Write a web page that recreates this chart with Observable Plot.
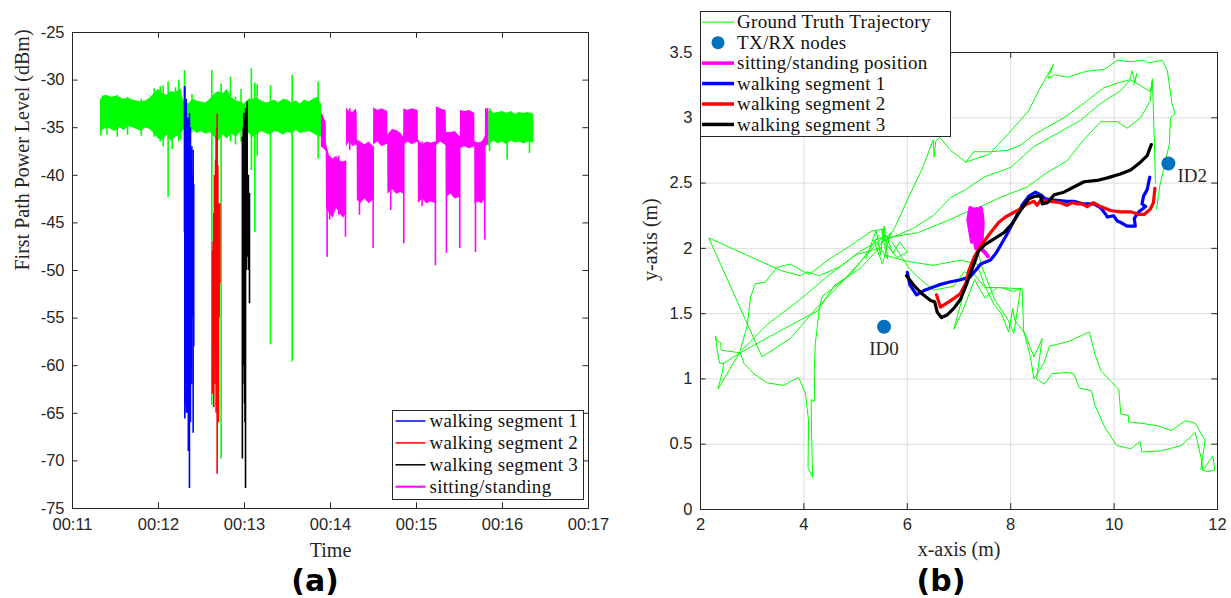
<!DOCTYPE html>
<html><head><meta charset="utf-8">
<script src="https://cdn.jsdelivr.net/npm/d3@7"></script>
<script src="https://cdn.jsdelivr.net/npm/@observablehq/plot@0.6"></script>
<style>
body{margin:0;background:#fff;}
#wrap{position:relative;width:1231px;height:598px;overflow:hidden;background:#fff;}
#wrap > svg{position:absolute;top:0;}
.cap{position:absolute;top:565px;height:32px;line-height:32px;font-family:"DejaVu Sans",sans-serif;font-weight:bold;font-size:30px;color:#000;transform:translateX(-50%);}
</style></head>
<body><div id="wrap"></div>
<script>
// ---------- Panel (a): first path power level over time (minutes) ----------
const leftTicksX = [11,12,13,14,15,16,17];
const leftTicksY = [-75,-70,-65,-60,-55,-50,-45,-40,-35,-30,-25];
// green band [t, low, high]
const greenBandA = [
[11.325,-35.8,-32.2],[11.35,-35.3,-31.7],[11.40,-35.0,-31.6],[11.45,-35.2,-31.8],[11.50,-35.4,-31.7],
[11.55,-35.0,-31.8],[11.60,-35.3,-32.0],[11.65,-34.9,-31.9],[11.70,-35.0,-32.1],[11.75,-35.2,-32.2],
[11.80,-35.4,-32.3],[11.85,-35.0,-32.2],[11.90,-35.2,-31.9],[11.95,-35.6,-31.4],[12.00,-36.2,-31.0],
[12.05,-36.3,-31.4],[12.10,-35.8,-31.6],[12.15,-36.4,-31.2],[12.20,-36.0,-31.3],[12.25,-35.8,-31.0],
[12.30,-35.2,-32.3],[12.35,-35.0,-32.5],[12.40,-35.2,-32.0],[12.45,-35.6,-32.2],[12.50,-35.4,-32.3],
[12.55,-35.7,-32.4],[12.60,-35.5,-32.0],[12.65,-36.0,-31.5],[12.70,-36.4,-31.2],[12.75,-35.8,-31.4],
[12.80,-36.2,-31.0],[12.85,-35.6,-31.8],[12.90,-36.0,-32.2],[12.95,-35.5,-32.3],[13.00,-35.2,-32.5],
[13.05,-35.6,-32.0],[13.10,-36.0,-32.0],[13.15,-35.7,-31.9],[13.20,-35.4,-32.2],[13.25,-35.6,-32.4],
[13.30,-35.8,-32.3],[13.35,-35.4,-32.1],[13.40,-35.5,-32.4],[13.45,-35.8,-32.0],[13.50,-35.5,-32.1],
[13.55,-35.6,-32.4],[13.60,-35.3,-32.2],[13.65,-35.6,-32.5],[13.70,-35.5,-32.1],[13.75,-35.4,-32.3],
[13.80,-35.6,-32.0],[13.85,-35.9,-31.8],[13.895,-36.0,-32.5]];
const greenBandB = [
[15.84,-37.0,-33.3],[15.87,-36.6,-33.2],[15.90,-36.4,-33.5],[15.95,-36.7,-33.4],[16.00,-36.5,-33.3],
[16.05,-36.8,-33.5],[16.10,-36.4,-33.3],[16.15,-36.6,-33.6],[16.20,-36.5,-33.4],[16.25,-36.7,-33.5],
[16.30,-36.5,-33.4],[16.364,-36.6,-33.6]];
const greenSpikes = [
[11.33,-35.9,-32],[11.40,-35.8,-32],[11.52,-36,-31.6],[11.64,-35.8,-31.8],[11.80,-35.9,-32],
[11.95,-36,-30.9],[12.02,-36.5,-30.7],[12.054,-37,-30.6],[12.112,-42.3,-30.2],[12.159,-37.3,-31.5],
[12.197,-36,-30.8],[12.236,-36.5,-30.0],[12.255,-36.3,-31],[12.303,-35,-29.0],[12.39,-35.5,-31.5],
[12.62,-64.2,-29.0],[12.728,-69.8,-30.4],[12.78,-35.5,-31.5],[12.837,-36.5,-29.7],[12.895,-36.8,-31.8],
[12.96,-36.5,-31],[13.08,-39.5,-28.8],[13.12,-46.0,-30.3],[13.147,-38,-30.5],[13.302,-57.8,-30.6],
[13.554,-59.6,-29.5],[13.856,-38.3,-30.2],[15.85,-37.5,-33.0],[16.054,-38.4,-34],[16.314,-37.7,-34]];
const magentaBand = [
[13.895,-37.0,-33.4],[13.92,-37.2,-33.8],[13.95,-37.5,-34.5],[13.953,-43.5,-36.7],[13.99,-44.0,-38.0],
[14.03,-44.5,-38.3],[14.07,-43.5,-38.0],[14.11,-44.0,-38.5],[14.15,-44.5,-38.6],[14.185,-44.0,-38.5],
[14.187,-37.0,-32.9],[14.22,-36.5,-33.3],[14.26,-37.0,-33.4],[14.30,-36.8,-33.0],[14.31,-37.0,-33.5],
[14.312,-42.6,-36.3],[14.35,-43.0,-36.5],[14.40,-42.5,-36.8],[14.45,-43.0,-36.5],[14.50,-42.6,-37.0],
[14.502,-36.8,-32.9],[14.55,-36.5,-33.2],[14.60,-37.0,-33.0],[14.665,-36.7,-33.3],[14.667,-42.0,-35.8],
[14.72,-41.5,-35.2],[14.77,-42.0,-35.3],[14.82,-41.8,-35.6],[14.85,-42.0,-36.0],[14.852,-36.9,-33.0],
[14.90,-36.5,-33.2],[14.95,-36.8,-33.0],[15.02,-36.5,-33.2],[15.022,-43.0,-36.3],[15.07,-42.5,-36.8],
[15.12,-43.0,-36.5],[15.17,-42.8,-36.6],[15.23,-43.0,-36.5],[15.232,-36.9,-32.8],[15.28,-36.5,-33.0],
[15.345,-36.9,-33.2],[15.348,-42.3,-35.5],[15.40,-42.0,-35.5],[15.45,-42.5,-35.4],[15.51,-42.3,-36.0],
[15.512,-37.2,-33.2],[15.56,-37.0,-33.3],[15.62,-37.2,-33.2],[15.678,-37.0,-33.5],[15.68,-43.0,-36.5],
[15.72,-42.8,-36.6],[15.76,-43.0,-36.5],[15.80,-42.5,-36.0],[15.802,-37.0,-33.0],[15.84,-36.8,-33.0]];
const magentaSpikes = [
[13.961,-48.6,-38],[13.99,-44.7,-38],[14.096,-44.2,-38],[14.174,-46.5,-38.5],[14.224,-37.4,-33],
[14.337,-44.2,-36.5],[14.496,-47.7,-37],[14.70,-43.7,-35.5],[14.852,-47.2,-36],[15.065,-43.3,-36.5],
[15.22,-49.5,-36.5],[15.348,-48.2,-35.5],[15.503,-47.7,-36],[15.686,-48.1,-36.5],[15.794,-46.8,-36]];
const blueSpikes = [
[12.302,-46,-30.7],[12.306,-65.6,-30.67],[12.31,-64,-33],[12.315,-60,-36],[12.322,-65.0,-32],
[12.328,-62,-37],[12.333,-57,-38],[12.34,-65,-34],[12.347,-69,-35],[12.353,-60,-34],
[12.36,-72.9,-33.5],[12.366,-55,-36],[12.372,-66,-35],[12.38,-60,-38],[12.388,-62,-37],
[12.395,-55,-40],[12.403,-67.1,-37.4],[12.41,-58,-41]];
const redSpikes = [
[12.628,-63,-48],[12.635,-60,-47],[12.643,-64.4,-44],[12.65,-58,-40],[12.657,-62,-41],
[12.663,-60,-38.4],[12.67,-65,-36],[12.676,-62,-35],[12.682,-71.4,-33.6],[12.69,-60,-39],
[12.698,-66,-43],[12.705,-55,-44],[12.713,-51.4,-43]];
const blackSpikes = [
[12.975,-69.8,-36],[12.98,-62,-40],[12.985,-60,-35],[12.992,-58,-33.5],[13.0,-64,-35],
[13.006,-66,-34],[13.012,-72.9,-33],[13.02,-50,-33.5],[13.031,-48.6,-32.3],[13.045,-50,-40],
[13.058,-53.5,-41.9]];
const leftLegendLabels = ["walking segment 1","walking segment 2","walking segment 3","sitting/standing"];
const leftLegendColors = ["#0000ff","#ff0000","#000000","#ff00ff"];

// ---------- Panel (b): trajectories in metres ----------
const rightTicksX = [2,4,6,8,10,12];
const rightTicksY = [0,0.5,1,1.5,2,2.5,3,3.5];
const gt1 = [[5.45,2.10],[5.2,1.95],[4.9,1.80],[4.58,1.70],[4.35,1.63],[4.29,1.52],[4.26,1.40],[4.22,1.27],[4.20,1.05],[4.21,0.83],[4.14,0.84],[4.15,0.55],[4.17,0.245],[4.08,0.32],[4.09,0.68],[4.03,0.89],[3.90,1.01],[3.74,0.98],[3.61,0.95],[3.29,0.97],[3.03,1.04],[2.84,1.12],[2.77,1.20]];
const gt2 = [[2.77,1.20],[2.45,1.12],[2.42,1.05],[2.34,0.925],[2.77,1.21],[3.3,1.42],[3.9,1.60],[4.5,1.80],[5.0,1.95],[5.45,2.0],[5.1,1.85],[4.6,1.72],[4.26,1.52],[3.5,1.36],[2.77,1.20],[2.40,1.22],[2.39,1.28],[2.32,1.29],[2.29,1.33],[2.31,1.25],[2.37,1.12],[2.45,1.12]];
const gt3 = [[5.6,2.12],[5.35,2.01],[4.64,1.70],[4.26,1.55],[3.74,1.31],[3.19,1.17],[2.16,2.08],[3.0,1.93],[3.55,1.83],[3.93,1.79],[4.06,1.82],[4.29,1.79],[4.7,1.86],[5.1,1.98],[5.4,2.05]];
const gt4 = [[2.77,1.22],[2.9,1.40],[2.97,1.63],[3.06,1.73],[3.25,1.74],[3.48,1.855],[3.74,1.88],[4.1,1.80],[4.5,1.92],[4.9,2.02],[5.3,2.13],[5.55,2.15]];
const gt5 = [[5.2,1.92],[5.4,2.14],[5.48,1.95],[5.55,2.17],[5.62,1.92],[5.45,2.02],[5.68,2.12],[5.52,1.88],[5.35,2.06],[5.6,2.1],[5.72,1.96],[5.85,2.05],[6.0,1.97],[5.8,1.93],[5.62,2.02],[5.5,2.15],[5.58,1.98]];
const gt6 = [[5.58,2.05],[5.76,2.16],[6.0,2.37],[6.3,2.62],[6.5,2.83],[6.52,2.70],[6.55,2.82],[6.63,2.85],[6.84,2.75],[7.13,2.66],[7.29,2.74],[7.61,2.74],[7.93,2.75],[8.19,2.79],[8.45,2.87],[8.71,2.93],[9.03,3.0],[9.41,3.11],[9.8,3.23],[10.1,3.27],[10.3,3.29],[10.35,3.36],[10.4,3.27],[10.44,3.34],[10.38,3.25]];
const gt7 = [[7.13,2.66],[7.58,2.72],[7.96,2.88],[8.34,3.05],[8.6,3.25],[8.83,3.41],[8.72,3.30],[8.85,3.33],[9.1,3.31],[9.41,3.35],[9.55,3.36],[9.81,3.37],[10.06,3.44],[10.3,3.43],[10.58,3.44],[10.65,3.42],[10.93,3.44],[11.03,3.36],[11.12,3.11],[11.18,3.03],[11.09,3.0],[11.07,2.80],[11.0,2.68],[10.88,2.47],[10.82,2.30]];
const gt8 = [[5.5,2.05],[6.1,2.15],[6.5,2.25],[6.84,2.39],[7.13,2.45],[7.48,2.545],[8.0,2.62],[8.45,2.78],[8.9,2.88],[9.35,2.98],[9.74,3.11],[10.1,3.2],[10.32,3.29],[10.5,3.25],[10.7,3.20],[10.74,3.29],[10.76,3.05],[10.78,2.80],[10.8,2.5]];
const gt9 = [[5.6,2.08],[6.2,2.12],[6.77,2.21],[7.1,2.27],[7.42,2.32],[7.80,2.39],[8.32,2.47],[8.7,2.58],[9.09,2.67],[9.41,2.83],[9.74,2.97],[10.06,2.97],[10.25,2.92],[10.51,3.0],[10.7,3.13],[10.74,3.3]];
const gt10 = [[5.55,1.95],[6.0,1.90],[6.5,1.87],[7.03,1.91],[7.35,1.88],[7.48,1.73],[7.67,1.575],[7.82,1.50],[7.96,1.36],[8.04,1.54],[8.08,1.45],[8.27,1.35],[8.38,1.24],[8.45,1.17],[8.61,1.31],[8.50,1.0],[8.65,0.96],[8.80,1.04],[9.10,1.05],[9.22,1.04],[9.33,0.93],[9.56,0.91],[9.63,0.80],[9.82,0.63],[10.05,0.49],[10.32,0.465],[10.50,0.52],[10.54,0.44],[10.92,0.45],[11.3,0.49],[11.57,0.59],[11.68,0.40],[11.72,0.30],[11.91,0.41],[11.95,0.30],[11.80,0.29],[11.68,0.31]];
const gt11 = [[11.68,0.31],[11.76,0.53],[11.57,0.66],[11.38,0.68],[11.11,0.605],[10.85,0.64],[10.54,0.66],[10.28,0.67],[10.28,0.72],[10.13,0.73],[10.09,0.92],[9.75,1.06],[9.63,1.19],[9.52,1.36],[9.14,1.29],[8.75,1.25],[8.64,1.12],[8.45,1.0],[8.38,1.17],[8.25,1.37],[8.22,1.69],[7.74,1.70],[7.5,1.62],[7.3,1.76],[7.1,1.55],[6.9,1.38],[7.05,1.6],[7.2,1.8],[7.35,1.95],[7.40,2.28]];
const gt12 = [[5.7,2.05],[6.03,1.85],[6.2,1.78],[6.51,1.68],[6.9,1.71],[7.1,1.82],[7.3,1.80],[7.5,1.70],[7.8,1.70],[8.05,1.67],[8.19,1.69],[8.1,1.45],[8.06,1.35],[7.95,1.45],[7.7,1.60],[7.45,1.85],[7.35,2.0],[7.3,2.3]];
const sittingPos = [[7.25,2.05],[7.18,2.22],[7.22,2.31],[7.30,2.28],[7.34,2.12],[7.30,2.30],[7.38,2.27],[7.42,2.31],[7.46,2.2],[7.44,2.08],[7.38,2.0],[7.28,2.1],[7.20,2.25],[7.26,2.18],[7.33,2.0],[7.40,2.15],[7.45,2.26],[7.36,2.22],[7.30,2.06],[7.24,2.14],[7.21,2.29],[7.27,2.24],[7.35,2.30],[7.40,2.22],[7.32,2.16],[7.28,2.26],[7.36,2.08],[7.43,2.14],[7.37,2.28],[7.31,2.20],[7.42,2.0],[7.50,1.97],[7.56,1.94]];
const walk1 = [[6.0,1.817],[6.05,1.72],[6.178,1.644],[6.32,1.677],[6.61,1.72],[6.80,1.74],[7.03,1.76],[7.21,1.78],[7.32,1.83],[7.42,1.88],[7.61,1.91],[7.71,1.96],[7.80,2.02],[7.93,2.11],[8.06,2.21],[8.22,2.33],[8.35,2.40],[8.48,2.43],[8.58,2.41],[8.67,2.38],[8.84,2.37],[9.09,2.36],[9.22,2.36],[9.41,2.34],[9.61,2.34],[9.74,2.31],[9.83,2.265],[9.87,2.24],[9.99,2.25],[10.06,2.21],[10.12,2.2],[10.25,2.17],[10.41,2.17],[10.39,2.23],[10.48,2.28],[10.61,2.32],[10.54,2.34],[10.57,2.40],[10.64,2.45],[10.69,2.545]];
const walk2 = [[6.565,1.644],[6.64,1.55],[6.84,1.60],[7.02,1.65],[7.13,1.73],[7.19,1.83],[7.29,1.93],[7.42,2.02],[7.61,2.12],[7.77,2.20],[7.90,2.24],[8.13,2.29],[8.32,2.34],[8.45,2.36],[8.51,2.33],[8.58,2.37],[8.77,2.36],[8.96,2.35],[9.09,2.33],[9.19,2.35],[9.29,2.34],[9.38,2.34],[9.48,2.32],[9.60,2.35],[9.74,2.32],[9.93,2.29],[10.12,2.28],[10.32,2.28],[10.48,2.26],[10.58,2.26],[10.70,2.30],[10.76,2.35],[10.79,2.46]];
const walk3 = [[5.985,1.79],[6.13,1.715],[6.29,1.65],[6.45,1.60],[6.53,1.59],[6.58,1.51],[6.66,1.47],[6.77,1.49],[6.90,1.54],[7.03,1.61],[7.16,1.74],[7.29,1.88],[7.38,1.98],[7.51,2.03],[7.67,2.07],[7.87,2.12],[8.03,2.19],[8.19,2.29],[8.35,2.38],[8.48,2.40],[8.58,2.40],[8.61,2.34],[8.71,2.35],[8.84,2.41],[9.03,2.43],[9.22,2.47],[9.42,2.51],[9.67,2.52],[9.87,2.54],[10.12,2.57],[10.32,2.60],[10.51,2.66],[10.64,2.71],[10.72,2.795]];
const nodeIds = ["ID0","ID2"];
const nodeX = [5.55, 11.05];
const nodeY = [1.40, 2.65];
const rightLegendLabels = ["Ground Truth Trajectory","TX/RX nodes","sitting/standing position","walking segment 1","walking segment 2","walking segment 3"];
const rightLegendColors = ["#00ff00","#0072bd","#ff00ff","#0000ff","#ff0000","#000000"];

// ---------- build ----------
const INK = "#262626";
const SERIF = "Liberation Serif, Times New Roman, serif";
const SANS = "Liberation Sans, Arial, sans-serif";
const fmt = d => String(d);
const px = d => d[0], lo = d => d[1], hi = d => d[2];

const left = Plot.plot({
  width: 615, height: 560, marginLeft: 72, marginRight: 27, marginTop: 32, marginBottom: 52,
  style: {fontFamily: SANS, fontSize: "16.5px", color: INK, background: "transparent", overflow: "visible"},
  x: {domain: [11, 17]},
  y: {domain: [-75, -25]},
  marks: [
    Plot.areaY(greenBandA, {x: px, y1: lo, y2: hi, fill: "#00ff00"}),
    Plot.areaY(greenBandB, {x: px, y1: lo, y2: hi, fill: "#00ff00"}),
    Plot.ruleX(greenSpikes, {x: px, y1: lo, y2: hi, stroke: "#00ff00", strokeWidth: 1.6}),
    Plot.areaY(magentaBand, {x: px, y1: lo, y2: hi, fill: "#ff00ff"}),
    Plot.ruleX(magentaSpikes, {x: px, y1: lo, y2: hi, stroke: "#ff00ff", strokeWidth: 1.6}),
    Plot.ruleX(blueSpikes, {x: px, y1: lo, y2: hi, stroke: "#0000ff", strokeWidth: 1.6}),
    Plot.ruleX(redSpikes, {x: px, y1: lo, y2: hi, stroke: "#ff0000", strokeWidth: 1.6}),
    Plot.ruleX(blackSpikes, {x: px, y1: lo, y2: hi, stroke: "#000000", strokeWidth: 1.6}),
    Plot.frame({stroke: INK}),
    Plot.ruleX(leftTicksX, {x: d => d, y1: -75, y2: -74.4, stroke: INK}),
    Plot.ruleX(leftTicksX, {x: d => d, y1: -25, y2: -25.6, stroke: INK}),
    Plot.ruleY(leftTicksY, {y: d => d, x1: 11, x2: 11.065, stroke: INK}),
    Plot.ruleY(leftTicksY, {y: d => d, x1: 17, x2: 16.935, stroke: INK}),
    Plot.axisX({ticks: leftTicksX, tickSize: 0, tickPadding: 10, tickFormat: d => "00:" + d, label: null, fontSize: 16.5}),
    Plot.axisY({ticks: leftTicksY, tickSize: 0, tickPadding: 8, tickFormat: fmt, label: null, fontSize: 16.5}),
    Plot.text(["Time"], {text: d => d, frameAnchor: "bottom", dy: 42, lineAnchor: "middle", fontFamily: SERIF, fontSize: 20, fill: INK}),
    Plot.text(["First Path Power Level (dBm)"], {text: d => d, frameAnchor: "left", dx: -50, rotate: -90, fontFamily: SERIF, fontSize: 20, fill: INK})
  ]
});

const gtAll = [gt1,gt2,gt3,gt4,gt5,gt6,gt7,gt8,gt9,gt10,gt11,gt12].flatMap((p, k) => p.map(d => ({x: d[0], y: d[1], pass: k})));
const nodes = nodeIds.map((id, i) => ({id, x: nodeX[i], y: nodeY[i]}));

const right = Plot.plot({
  width: 616, height: 560, marginLeft: 85, marginRight: 14, marginTop: 52, marginBottom: 51,
  style: {fontFamily: SANS, fontSize: "16.5px", color: INK, background: "transparent", overflow: "visible"},
  x: {domain: [2, 12]},
  y: {domain: [0, 3.5]},
  marks: [
    Plot.gridX(rightTicksX, {stroke: "#dcdcdc", strokeOpacity: 1}),
    Plot.gridY(rightTicksY, {stroke: "#dcdcdc", strokeOpacity: 1}),
    Plot.line(gtAll, {x: "x", y: "y", z: "pass", stroke: "#00ff00", strokeWidth: 1}),
    Plot.line(sittingPos, {x: px, y: d => d[1], stroke: "#ff00ff", strokeWidth: 4, strokeLinejoin: "round"}),
    Plot.line(walk1, {x: px, y: d => d[1], stroke: "#0000ff", strokeWidth: 3.2}),
    Plot.line(walk2, {x: px, y: d => d[1], stroke: "#ff0000", strokeWidth: 3.2}),
    Plot.line(walk3, {x: px, y: d => d[1], stroke: "#000000", strokeWidth: 3.2}),
    Plot.dot(nodes, {x: "x", y: "y", r: 7, fill: "#0072bd", stroke: "none"}),
    Plot.text(nodes.filter(d => d.id === "ID0"), {x: "x", y: "y", text: "id", dy: 22, fontFamily: SERIF, fontSize: 19, fill: INK}),
    Plot.text(nodes.filter(d => d.id === "ID2"), {x: "x", y: "y", text: "id", dx: 9, dy: 12, textAnchor: "start", fontFamily: SERIF, fontSize: 19, fill: INK}),
    Plot.frame({stroke: INK}),
    Plot.ruleX(rightTicksX, {x: d => d, y1: 0, y2: 0.045, stroke: INK}),
    Plot.ruleX(rightTicksX, {x: d => d, y1: 3.5, y2: 3.455, stroke: INK}),
    Plot.ruleY(rightTicksY, {y: d => d, x1: 2, x2: 2.11, stroke: INK}),
    Plot.ruleY(rightTicksY, {y: d => d, x1: 12, x2: 11.89, stroke: INK}),
    Plot.axisX({ticks: rightTicksX, tickSize: 0, tickPadding: 9, tickFormat: fmt, label: null, fontSize: 16.5}),
    Plot.axisY({ticks: rightTicksY, tickSize: 0, tickPadding: 8, tickFormat: fmt, label: null, fontSize: 16.5}),
    Plot.text(["x-axis (m)"], {text: d => d, frameAnchor: "bottom", dy: 40, lineAnchor: "middle", fontFamily: SERIF, fontSize: 20, fill: INK}),
    Plot.text(["y-axis (m)"], {text: d => d, frameAnchor: "left", dx: -50, rotate: -90, fontFamily: SERIF, fontSize: 20, fill: INK})
  ]
});

const wrap = document.getElementById("wrap");
left.style.left = "0px";
right.style.left = "615px";
wrap.appendChild(left);
wrap.appendChild(right);

function legend(cfg) {
  const svg = d3.select(wrap).append("svg")
    .attr("width", cfg.w).attr("height", cfg.h)
    .style("position", "absolute").style("left", cfg.x + "px").style("top", cfg.y + "px");
  svg.append("rect").attr("x", 0.5).attr("y", 0.5).attr("width", cfg.w - 1).attr("height", cfg.h - 1)
    .attr("fill", "white").attr("stroke", INK).attr("stroke-width", 1);
  cfg.labels.forEach((lab, i) => {
    const y = cfg.y0 + i * cfg.dy;
    const kind = cfg.kinds[i];
    if (kind === "dot") {
      svg.append("circle").attr("cx", (cfg.s0 + cfg.s1) / 2).attr("cy", y).attr("r", 6.5).attr("fill", cfg.colors[i]);
    } else {
      svg.append("line").attr("x1", cfg.s0).attr("x2", cfg.s1).attr("y1", y).attr("y2", y)
        .attr("stroke", cfg.colors[i]).attr("stroke-width", kind);
    }
    svg.append("text").attr("x", cfg.tx).attr("y", y).attr("dy", "0.33em")
      .attr("font-family", SERIF).attr("font-size", 19).attr("letter-spacing", "0.3px").attr("fill", "#111").text(lab);
  });
}
legend({x: 391.5, y: 410, w: 192, h: 90, y0: 11, dy: 21.9, s0: 3.5, s1: 33.5, tx: 37.5,
  labels: leftLegendLabels, colors: leftLegendColors, kinds: [1.5, 1.5, 1.5, 2]});
legend({x: 700, y: 10.5, w: 251, h: 126, y0: 11.2, dy: 20.45, s0: 2, s1: 34, tx: 37,
  labels: rightLegendLabels, colors: rightLegendColors, kinds: [1, "dot", 3.5, 3.5, 3.5, 3.5]});

for (const [t, cx] of [["(a)", 315], ["(b)", 941]]) {
  const d = document.createElement("div");
  d.className = "cap"; d.textContent = t; d.style.left = cx + "px";
  wrap.appendChild(d);
}
</script>
</body></html>
